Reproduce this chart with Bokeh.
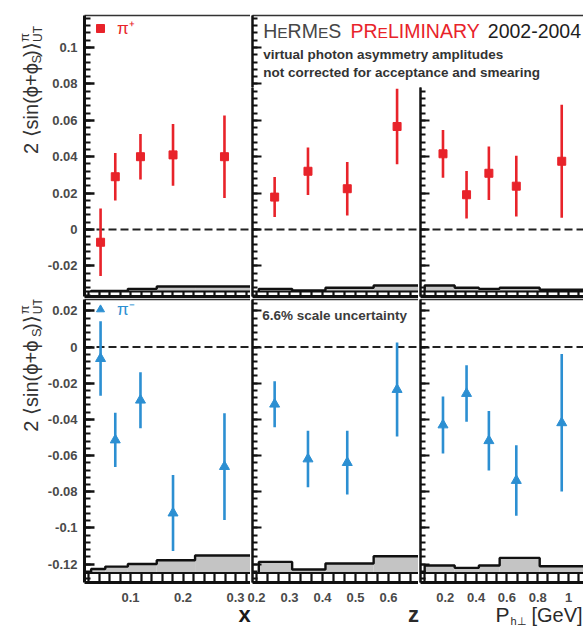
import numpy as np
from math import pi, sin, cos
from bokeh.plotting import figure
from bokeh.models import (Range1d, LinearAxis, FixedTicker, CustomJSTickFormatter,
                          Label, Span, Legend, LegendItem)
from bokeh.layouts import row, column
from bokeh.embed import file_html
from bokeh.resources import INLINE

# ---------------- asymmetry amplitudes 2<sin(phi+phi_S)>_UT ----------------
x_mean = [0.043, 0.071, 0.119, 0.181, 0.279]
z_mean = [0.255, 0.356, 0.475, 0.626]
pt_mean = [0.185, 0.338, 0.483, 0.661, 0.956]

pip_x = [-0.0070, 0.0290, 0.0400, 0.0410, 0.0400]
pip_x_err = [0.0186, 0.0130, 0.0125, 0.0170, 0.0227]
pip_z = [0.0178, 0.0320, 0.0224, 0.0566]
pip_z_err = [0.0110, 0.0130, 0.0147, 0.0208]
pip_pt = [0.0416, 0.0191, 0.0309, 0.0238, 0.0375]
pip_pt_err = [0.0131, 0.0130, 0.0147, 0.0167, 0.0310]

pim_x = [-0.0064, -0.0514, -0.0294, -0.0918, -0.0661]
pim_x_err = [0.0206, 0.0150, 0.0155, 0.0210, 0.0295]
pim_z = [-0.0316, -0.0619, -0.0639, -0.0235]
pim_z_err = [0.0127, 0.0156, 0.0176, 0.0260]
pim_pt = [-0.0431, -0.0257, -0.0518, -0.0738, -0.0419]
pim_pt_err = [0.0157, 0.0156, 0.0165, 0.0195, 0.0380]

# systematic uncertainty bands (bin edges and band heights)
x_edges = [0.025, 0.052, 0.095, 0.150, 0.223, 0.40]
z_edges = [0.207, 0.308, 0.409, 0.555, 0.75]
pt_edges = [0.066, 0.261, 0.418, 0.553, 0.813, 1.30]
pip_x_sys = [0.0003, 0.0003, 0.0014, 0.0027, 0.0027]
pip_z_sys = [0.0014, 0.0005, 0.0020, 0.0032]
pip_pt_sys = [0.0032, 0.0020, 0.0014, 0.0020, 0.0009]
pim_x_sys = [0.0023, 0.0036, 0.0050, 0.0071, 0.0097]
pim_z_sys = [0.0062, 0.0020, 0.0053, 0.0093]
pim_pt_sys = [0.0042, 0.0029, 0.0042, 0.0084, 0.0038]

# tick labels
top_yticks = [-0.02, 0.0, 0.02, 0.04, 0.06, 0.08, 0.10]
bot_yticks = [-0.12, -0.10, -0.08, -0.06, -0.04, -0.02, 0.0, 0.02]
x_ticks = [0.1, 0.2, 0.3]
z_ticks = [0.2, 0.3, 0.4, 0.5, 0.6]
pt_ticks = [0.2, 0.4, 0.6, 0.8, 1.0]

# ---------------- page geometry ----------------
# axis calibration: (value, page pixel, pixels per unit)
XCAL = {"x": (0.1, 130.0, 525.0), "z": (0.2, 256.0, 330.0), "pt": (0.0, 414.0, 154.0)}
PXCAL = (0.0, 0.0, 1.0)
YCAL_TOP = (0.0, 229.0, -1820.0)
YCAL_BOT = (0.0, 346.7, -1815.0)
TOP_BASE = -0.034
BOT_BASE = -0.125

RED = "#e8232a"
BLUE = "#2c8fd2"
GREY = "#c4c4c4"
INK = "#111111"
LABEL = "#4a4a4a"
FONT = "Liberation Sans"
MID = 0.35  # distance from baseline to the middle of the text box, in em


def val(px, cal):
    v0, p0, s = cal
    return v0 + (px - p0) / s


def pix(v, cal):
    v0, p0, s = cal
    return p0 + (v - v0) * s


def tick_text(v):
    return f"{v:.2f}".rstrip("0").rstrip(".")


y_minor = [round(v, 4) for v in np.arange(-0.14, 0.13, 0.004)]
x_minor = [round(v, 4) for v in np.arange(0.0, 0.40, 0.02)]
z_minor = [round(v, 4) for v in np.arange(0.1, 0.8, 0.1 / 3)]
pt_minor = [round(v, 4) for v in np.arange(0.0, 1.3, 0.2 / 3)]


def panel(width, height, borders, xr, yr):
    l, r, t, b = borders
    p = figure(width=width, height=height, x_range=Range1d(*xr), y_range=Range1d(*yr),
               x_axis_type=None, y_axis_type=None, output_backend="svg",
               toolbar_location=None, min_border_left=l, min_border_right=r,
               min_border_top=t, min_border_bottom=b, title=None)
    p.outline_line_color = None
    p.background_fill_color = "white"
    p.border_fill_color = "white"
    return p


def labelled_axis(ticks, minor, major_in, minor_in, line_width=3):
    fmt = CustomJSTickFormatter(
        code="return tick.toFixed(2).replace(/0+$/, '').replace(/\\.$/, '');")
    return LinearAxis(ticker=FixedTicker(ticks=ticks, minor_ticks=minor), formatter=fmt,
                      major_tick_in=major_in, major_tick_out=0,
                      minor_tick_in=minor_in, minor_tick_out=0,
                      axis_line_color=INK, axis_line_width=line_width,
                      major_tick_line_color=INK, major_tick_line_width=2.4,
                      minor_tick_line_color=INK, minor_tick_line_width=2.2,
                      major_label_text_font=FONT, major_label_text_font_style="bold",
                      major_label_text_color=LABEL, major_label_text_font_size="13px",
                      major_label_standoff=7)


def tick_axis(positions, length, line_width=2.5, line_color=INK):
    """Axis line with inward ticks only (no labels)."""
    return LinearAxis(ticker=FixedTicker(ticks=[], minor_ticks=positions),
                      major_tick_in=0, major_tick_out=0,
                      minor_tick_in=length, minor_tick_out=0,
                      axis_line_color=line_color, axis_line_width=line_width,
                      minor_tick_line_color=INK, minor_tick_line_width=2.2)


def plain_left(p, majors):
    p.add_layout(tick_axis(y_minor, 5, line_width=2), "left")
    p.add_layout(tick_axis(majors, 9, line_width=2), "left")


def plain_below(p, majors, minors, length):
    p.add_layout(tick_axis(sorted(set(majors) | set(minors)), length, line_width=3), "below")


def top_edge(p):
    p.add_layout(tick_axis([], 0, line_width=1.6, line_color="#333333"), "above")


def label(p, px, py, s, xcal, ycal, size, color, style="normal", align="left",
          angle=0.0, font=FONT):
    """Text whose baseline starts at page pixel (px, py)."""
    ax = px - MID * size * sin(angle)
    ay = py - MID * size * cos(angle)
    p.add_layout(Label(x=val(ax, xcal), y=val(ay, ycal), text=s, text_font=font,
                       text_font_size=f"{size}px", text_color=color,
                       text_font_style=style, text_align=align,
                       text_baseline="middle", angle=angle))


def draw(p, xs, ys, errs, edges, sys, base, color, marker, msize):
    tops = [base + h for h in sys]
    p.quad(left=edges[:-1], right=edges[1:], bottom=base, top=tops,
           fill_color=GREY, line_color=None)
    sx, sy = [edges[0]], [base]
    for i, t in enumerate(tops):
        sx += [edges[i], edges[i + 1]]
        sy += [t, t]
    sx.append(edges[-1])
    sy.append(base)
    p.line(sx, sy, line_color=INK, line_width=2.4)
    p.add_layout(Span(location=base, dimension="width", line_color=INK, line_width=2))
    p.add_layout(Span(location=0, dimension="width", line_color="#222222", line_width=2,
                      line_dash="8 4", level="underlay"))
    lo = [v - e for v, e in zip(ys, errs)]
    hi = [v + e for v, e in zip(ys, errs)]
    p.segment(x0=xs, y0=lo, x1=xs, y1=hi, line_color=color, line_width=2.6)
    return p.scatter(xs, ys, marker=marker, size=msize, fill_color=color, line_color=color)


def legend(p, r, text, color, loc):
    leg = Legend(items=[LegendItem(label=text, renderers=[r])], location=loc,
                 border_line_color=None, background_fill_alpha=0, padding=0, margin=0,
                 spacing=0, glyph_width=20, glyph_height=20, label_standoff=7,
                 label_text_font=FONT, label_text_font_size="17px",
                 label_text_color=color, label_height=20)
    p.add_layout(leg)


def strip(width, height, x0, y0):
    """Plain text strip whose data coordinates are page pixels."""
    s = figure(width=width, height=height, x_range=Range1d(x0, x0 + width),
               y_range=Range1d(y0 + height, y0), x_axis_type=None, y_axis_type=None,
               output_backend="svg", toolbar_location=None, min_border=0, title=None)
    s.outline_line_color = None
    s.background_fill_color = "white"
    s.border_fill_color = "white"
    return s


def y_title(s, dy):
    ink = "#333333"
    label(s, 37, 147 + dy, "2 \u27e8sin(\u03d5+\u03d5", PXCAL, PXCAL, 20, ink, angle=pi / 2)
    label(s, 41, 51 + dy, "S", PXCAL, PXCAL, 13, ink, angle=pi / 2)
    label(s, 37, 44 + dy, ")\u27e9", PXCAL, PXCAL, 20, ink, angle=pi / 2)
    label(s, 29, 28 + dy, "\u03c0", PXCAL, PXCAL, 13, ink, angle=pi / 2)
    label(s, 42, 28 + dy, "UT", PXCAL, PXCAL, 12, ink, angle=pi / 2)


# ---------------- top row: pi+ ----------------
t_top = strip(44, 298, 0, 0)
y_title(t_top, 0)

p11 = panel(206, 298, (40, 0, 15, 2),
            (val(84, XCAL["x"]), val(250, XCAL["x"])), (val(296, YCAL_TOP), val(15, YCAL_TOP)))
p11.add_layout(labelled_axis(top_yticks, y_minor, 10, 6), "left")
plain_below(p11, x_ticks, x_minor, 5)
top_edge(p11)
r = draw(p11, x_mean, pip_x, pip_x_err, x_edges, pip_x_sys, TOP_BASE, RED, "square", 8)
legend(p11, r, "\u03c0\u207a", RED, (6, 257))

head = panel(333, 87, (2, 0, 15, 0), (252, 583), (val(87, YCAL_TOP), val(15, YCAL_TOP)))
plain_left(head, top_yticks)
top_edge(head)

ARIAL_W = {"H": .722, "E": .667, "R": .722, "M": .833, "S": .667, "P": .667, "L": .556,
           "I": .278, "N": .722, "A": .667, "Y": .667}


def runs(p, x, py, parts):
    for s, size, color in parts:
        label(p, x, py, s, PXCAL, YCAL_TOP, size, color)
        x += sum(ARIAL_W[c] for c in s) * size


runs(head, 262.7, 37.7, [("H", 19.5, "#474747"), ("E", 15.5, "#474747"),
                         ("RM", 19.5, "#474747"), ("E", 15.5, "#474747"),
                         ("S", 19.5, "#474747")])
runs(head, 350.0, 37.7, [("PR", 19.5, RED), ("E", 15.5, RED), ("LIMINARY", 19.5, RED)])
label(head, 487.3, 37.7, "2002-2004", PXCAL, YCAL_TOP, 19.5, "#1e1e1e")
label(head, 262.7, 59.0, "virtual photon asymmetry amplitudes", PXCAL, YCAL_TOP, 13.5,
      "#333333", style="bold")
label(head, 262.7, 76.5, "not corrected for acceptance and smearing", PXCAL, YCAL_TOP, 13.5,
      "#333333", style="bold")

p12 = panel(168, 211, (2, 0, 0, 2),
            (val(252, XCAL["z"]), val(418, XCAL["z"])), (val(296, YCAL_TOP), val(87, YCAL_TOP)))
plain_left(p12, top_yticks)
plain_below(p12, z_ticks, z_minor, 5)
draw(p12, z_mean, pip_z, pip_z_err, z_edges, pip_z_sys, TOP_BASE, RED, "square", 8)

p13 = panel(165, 211, (2, 0, 0, 2),
            (val(420, XCAL["pt"]), val(583, XCAL["pt"])), (val(296, YCAL_TOP), val(87, YCAL_TOP)))
plain_left(p13, top_yticks)
plain_below(p13, pt_ticks, pt_minor, 5)
draw(p13, pt_mean, pip_pt, pip_pt_err, pt_edges, pip_pt_sys, TOP_BASE, RED, "square", 8)

# ---------------- bottom row: pi- ----------------
bot_yr = (val(583, YCAL_BOT), val(299, YCAL_BOT))

t_bot = strip(44, 287, 0, 298)
y_title(t_bot, 285)

p21 = panel(206, 287, (40, 0, 1, 3), (val(84, XCAL["x"]), val(250, XCAL["x"])), bot_yr)
p21.add_layout(labelled_axis(bot_yticks, y_minor, 10, 6), "left")
plain_below(p21, x_ticks, x_minor, 10)
top_edge(p21)
r = draw(p21, x_mean, pim_x, pim_x_err, x_edges, pim_x_sys, BOT_BASE, BLUE, "triangle", 10)
legend(p21, r, "\u03c0\u207b", BLUE, (6, 262))

p22 = panel(168, 287, (2, 0, 1, 3), (val(252, XCAL["z"]), val(418, XCAL["z"])), bot_yr)
plain_left(p22, bot_yticks)
plain_below(p22, z_ticks, z_minor, 10)
top_edge(p22)
draw(p22, z_mean, pim_z, pim_z_err, z_edges, pim_z_sys, BOT_BASE, BLUE, "triangle", 10)
label(p22, 261.7, 319.5, "6.6% scale uncertainty", XCAL["z"], YCAL_BOT, 13.5, "#3c3c3c",
      style="bold")

p23 = panel(165, 287, (2, 0, 1, 3), (val(420, XCAL["pt"]), val(583, XCAL["pt"])), bot_yr)
plain_left(p23, bot_yticks)
plain_below(p23, pt_ticks, pt_minor, 10)
top_edge(p23)
draw(p23, pt_mean, pim_pt, pim_pt_err, pt_edges, pim_pt_sys, BOT_BASE, BLUE, "triangle", 10)

# ---------------- x tick labels and axis titles ----------------
xt = strip(583, 42, 0, 585)
for ticks, key in ((x_ticks, "x"), (z_ticks, "z"), (pt_ticks, "pt")):
    for v in ticks:
        label(xt, pix(v, XCAL[key]), 602, tick_text(v), PXCAL, PXCAL, 13, LABEL,
              style="bold", align="center")
label(xt, 244, 622, "x", PXCAL, PXCAL, 22, "#1a1a1a", style="bold", align="center")
label(xt, 413, 622, "z", PXCAL, PXCAL, 22, "#2a2a2a", style="bold", align="center")
label(xt, 495, 621, "P", PXCAL, PXCAL, 21, "#2a2a2a")
label(xt, 510, 624.5, "h\u22a5", PXCAL, PXCAL, 11, "#2a2a2a")
label(xt, 531, 621, "[GeV]", PXCAL, PXCAL, 20, "#2a2a2a")

page = column(row(t_top, p11, column(head, row(p12, p13))),
              row(t_bot, p21, p22, p23),
              xt)

with open("out.html", "w") as f:
    f.write(file_html(page, INLINE))
